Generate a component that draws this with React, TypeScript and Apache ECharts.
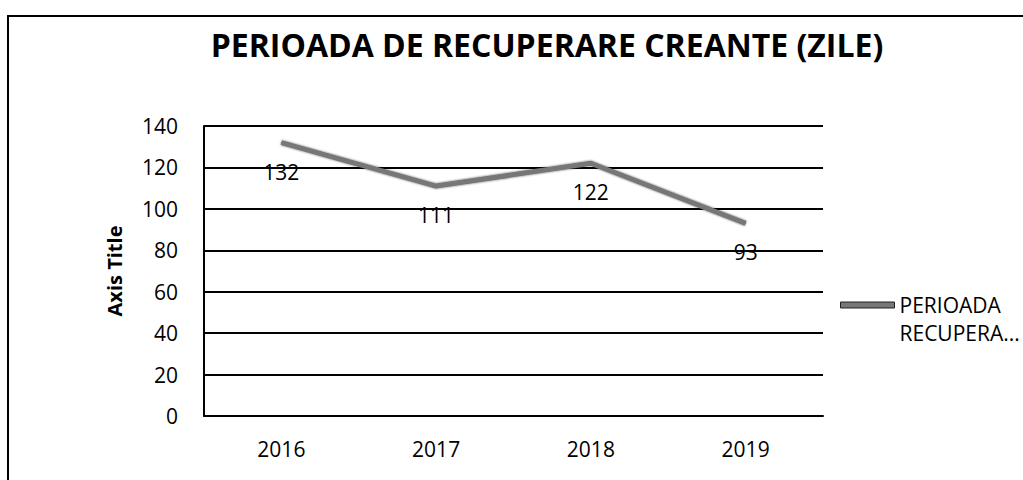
import React, { useEffect, useRef } from "react";
import * as echarts from "echarts";

const categories = ["2016", "2017", "2018", "2019"];
const values = [132, 111, 122, 93];
const seriesName = "PERIOADA RECUPERARE CREANTE";
const titleText = "PERIOADA DE RECUPERARE CREANTE (ZILE)";

export default function App() {
  const ref = useRef<HTMLDivElement>(null);
  useEffect(() => {
    document.body.style.margin = "0";
    const chart = echarts.init(ref.current!, null, { renderer: "svg" });
    chart.setOption({
      animation: false,
      backgroundColor: "#fff",
      title: {
        text: titleText,
        left: 542,
        top: 23,
        textAlign: "center",
        textStyle: { fontFamily: "Open Sans", fontWeight: "bold", fontSize: 32, color: "#000" },
      },
      graphic: [
        {
          type: "polyline",
          shape: { points: [[8, 480], [8, 16], [1023, 16]] },
          style: { stroke: "#000", lineWidth: 2, fill: "none" },
        },
      ],
      legend: {
        left: 835,
        top: 258,
        orient: "vertical",
        itemWidth: 54,
        itemHeight: 6,
        icon: "rect",
        textStyle: {
          fontFamily: "Open Sans",
          fontSize: 21,
          color: "#000",
          lineHeight: 28,
        },
        formatter: () => " \nPERIOADA\nRECUPERA...",
        data: [{ name: seriesName, itemStyle: { color: "#777", borderColor: "#222", borderWidth: 1 } }],
      },
      grid: { left: 204, right: 200, top: 126, bottom: 64, containLabel: false },
      xAxis: {
        type: "category",
        data: categories,
        axisLine: { lineStyle: { color: "#000", width: 2 } },
        axisTick: { show: false },
        axisLabel: { color: "#000", fontFamily: "Open Sans", fontSize: 21, margin: 22 },
      },
      yAxis: {
        type: "value",
        min: 0,
        max: 140,
        interval: 20,
        name: "Axis Title",
        nameLocation: "middle",
        nameGap: 80,
        nameTextStyle: { fontFamily: "Open Sans", fontWeight: "bold", fontSize: 20, color: "#000" },
        axisLine: { show: true, lineStyle: { color: "#000", width: 2 } },
        axisTick: { show: false },
        axisLabel: { color: "#000", fontFamily: "Open Sans", fontSize: 21, margin: 26 },
        splitLine: { lineStyle: { color: "#000", width: 2 } },
      },
      series: [
        {
          name: seriesName,
          type: "line",
          data: values,
          symbol: "circle",
          symbolSize: 1,
          showSymbol: true,
          lineStyle: { color: "#777", width: 5, shadowColor: "rgba(0,0,0,0.6)", shadowBlur: 2 },
          itemStyle: { color: "#777" },
          label: {
            show: true,
            position: "bottom",
            distance: 18,
            color: "#000",
            fontFamily: "Open Sans",
            fontSize: 21,
          },
        },
      ],
    });
    return () => chart.dispose();
  }, []);
  return <div ref={ref} style={{ width: 1023, height: 480 }} />;
}
